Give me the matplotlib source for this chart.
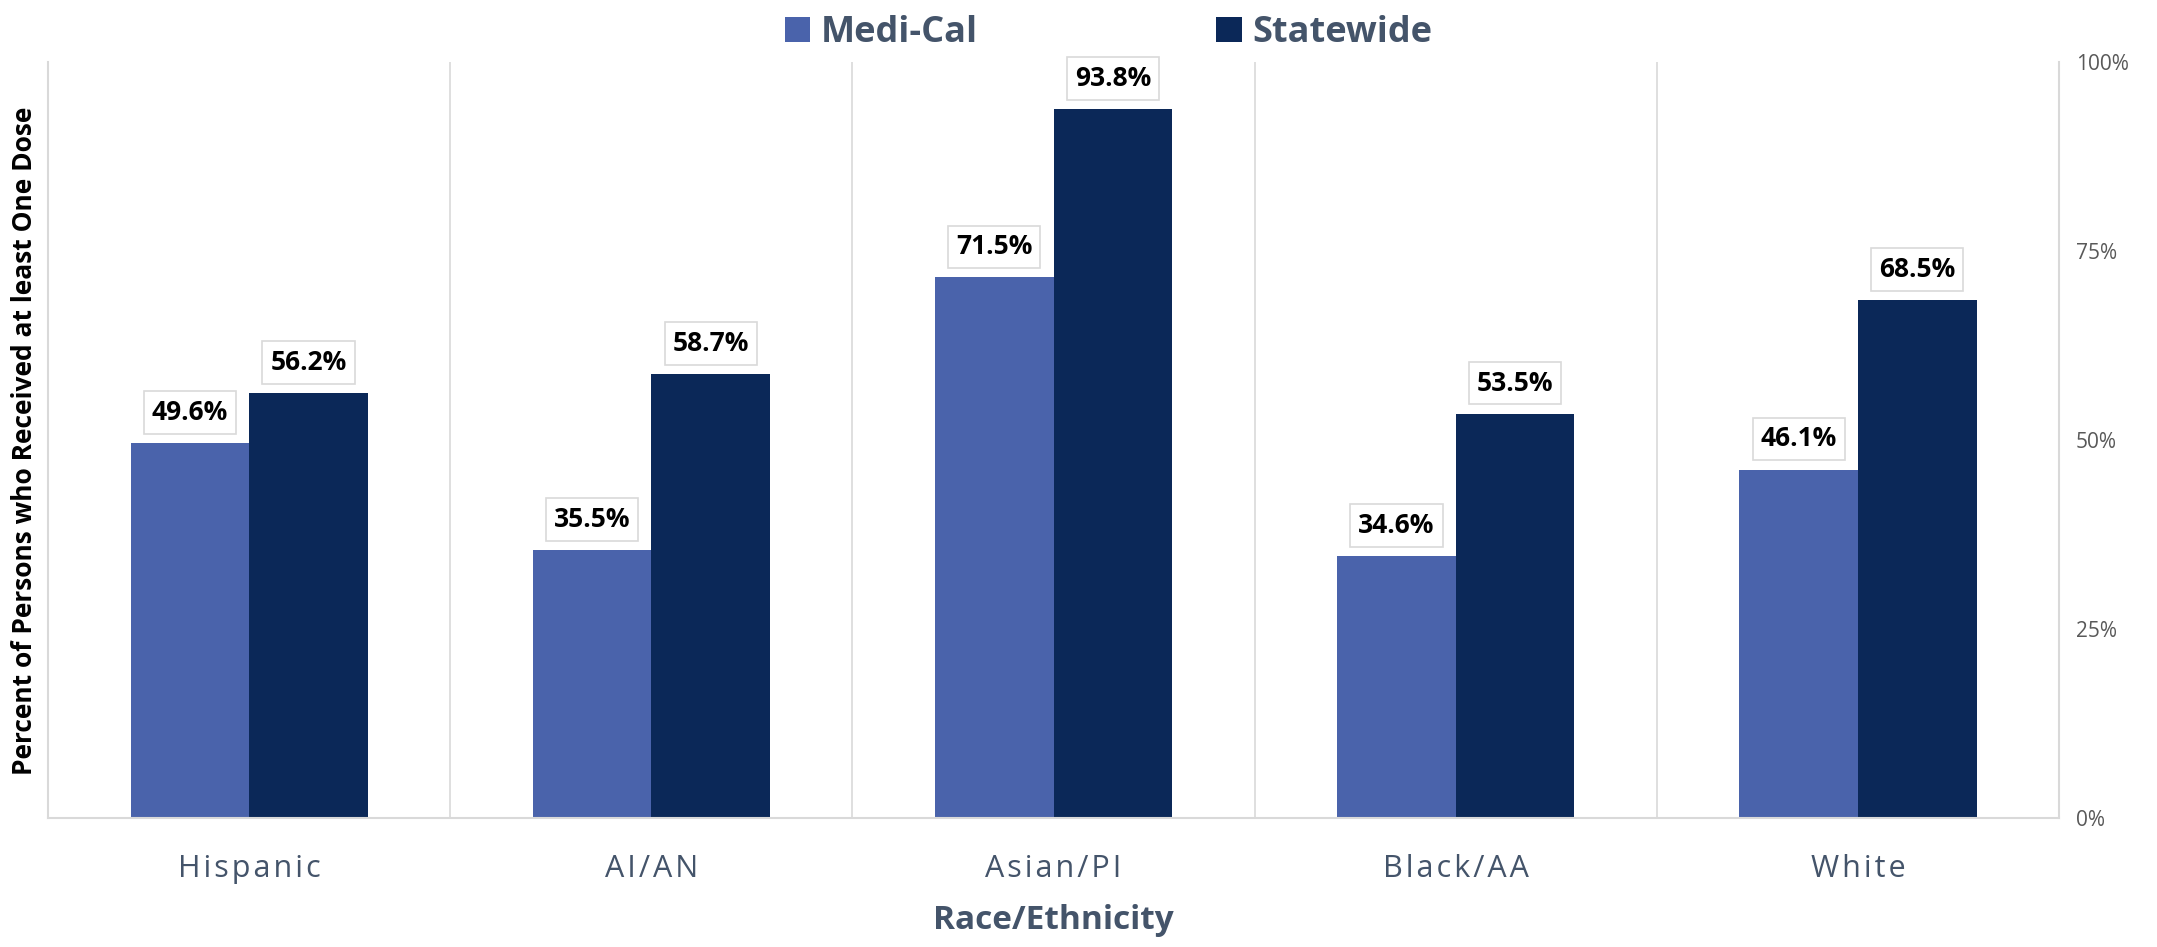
import matplotlib
matplotlib.use("Agg")
import matplotlib.pyplot as plt
import numpy as np

plt.rcParams['font.family'] = ['Open Sans', 'DejaVu Sans']

groups = ["Hispanic", "AI/AN", "Asian/PI", "Black/AA", "White"]
medi_cal = [49.6, 35.5, 71.5, 34.6, 46.1]
statewide = [56.2, 58.7, 93.8, 53.5, 68.5]
yticks = [0, 25, 50, 75, 100]

c_medi = "#4A63AB"
c_state = "#0B2858"
c_text = "#44546A"
c_grid = "#D9D9D9"

fig = plt.figure(figsize=(21.57, 9.47), dpi=100)
ax = fig.add_axes([0.0223, 0.1362, 0.9323, 0.7983])

x = np.arange(len(groups))
w = 0.295
b1 = ax.bar(x - w / 2, medi_cal, w, color=c_medi, label="Medi-Cal")
b2 = ax.bar(x + w / 2, statewide, w, color=c_state, label="Statewide")

for bars in (b1, b2):
    for r in bars:
        ax.annotate(f"{r.get_height():.1f}%", (r.get_x() + r.get_width() / 2, r.get_height()),
                    xytext=(0, 22), textcoords="offset points", ha="center", va="center",
                    fontsize=19, fontweight="bold", color="black",
                    bbox=dict(boxstyle="square,pad=0.3", fc="white", ec=c_grid, lw=1.2))

for s in np.arange(0.5, len(groups) - 0.5, 1):
    ax.axvline(s, color=c_grid, lw=1.2, zorder=0)

ax.set_xlim(-0.5, len(groups) - 0.5)
ax.set_ylim(0, 100)
ax.set_xticks(x)
# spaced-out category labels, like the original
ax.set_xticklabels(["\u200a".join(g) for g in groups], fontsize=22, color=c_text)
ax.tick_params(axis="x", length=0, pad=26)
ax.yaxis.tick_right()
ax.set_yticks(yticks)
ax.set_yticklabels([f"{t}%" for t in yticks], fontsize=15, color="#595959")
ax.tick_params(axis="y", length=0, pad=12)

ax.spines["top"].set_visible(False)
for sp in ("left", "right", "bottom"):
    ax.spines[sp].set_color(c_grid)
    ax.spines[sp].set_linewidth(1.5)

ax.set_xlabel("Race/Ethnicity", fontsize=24, fontweight="bold", color=c_text, labelpad=14)
fig.text(0.0112, 0.535, "Percent of Persons who Received at least One Dose", rotation=90,
         ha="center", va="center", fontsize=19, fontweight="bold", color="black")

leg = fig.legend(handles=[b1, b2], loc="center", bbox_to_anchor=(0.514, 0.965), ncol=2,
                 frameon=False, handlelength=0.7, handleheight=0.7, handletextpad=0.3,
                 columnspacing=6.6, prop={"size": 26, "weight": "bold"})
for t in leg.get_texts():
    t.set_color(c_text)

plt.savefig("out.png", dpi=100)
